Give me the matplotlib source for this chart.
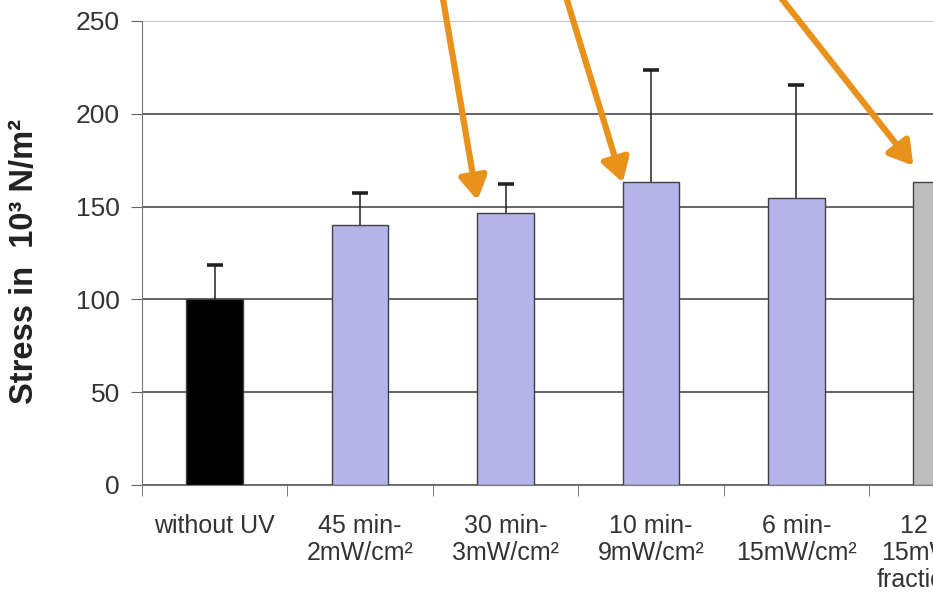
import matplotlib.pyplot as plt
import matplotlib.patheffects as pe
import numpy as np

plt.rcParams['font.family'] = ['Liberation Sans', 'DejaVu Sans']

categories = ['without UV', '45 min-\n2mW/cm²', '30 min-\n3mW/cm²', '10 min-\n9mW/cm²',
              '6 min-\n15mW/cm²', '12 min-\n15mW/cm²\nfractionated']
stress = [100, 140, 146.5, 163, 154.5, 163]
stress_err = [18.5, 17.5, 15.5, 60.5, 61, 57]
y_ticks = [0, 50, 100, 150, 200, 250]

# arrows point at these bars
arrow_bars = [2, 3, 5]

bar_colors = ['#000000', '#b4b4e8', '#b4b4e8', '#b4b4e8', '#b4b4e8', '#bebebe']
bar_width = 0.39

fig = plt.figure(figsize=(9.33, 5.99), dpi=100)
# axes run past the right edge, as in the cropped original
ax = fig.add_axes([142 / 933, 1 - 485 / 599, 6 * 145.4 / 933, 464 / 599])

x = np.arange(len(categories))
ax.bar(x, stress, width=bar_width, color=bar_colors, edgecolor='#404040', linewidth=1, zorder=3)
_, caps, _ = ax.errorbar(x, stress, yerr=[np.zeros(len(stress)), stress_err], fmt='none',
                         ecolor='#222222', elinewidth=1.1, capsize=6, capthick=2.6, zorder=4)
caps[0].set_visible(False)  # only the upper caps

ax.set_xlim(-0.5, len(categories) - 0.5)
ax.set_ylim(0, 250)
ax.set_yticks(y_ticks)
ax.set_xticks(x)
ax.set_xticklabels(categories, fontsize=18, color='#333333', linespacing=1.15)
ax.set_xticks(np.arange(len(categories) + 1) - 0.5, minor=True)
ax.tick_params(axis='x', which='major', length=0, pad=21)
ax.tick_params(axis='x', which='minor', length=8, direction='out', color='#666666')
ax.tick_params(axis='y', length=8, direction='out', color='#666666', labelsize=19,
               labelcolor='#333333', pad=8)

ax.grid(True, axis='y', color='#4a4a4a', linewidth=1.2, zorder=0)
ax.get_ygridlines()[-1].set_color('#b8b8b8')
for side in ['top', 'right']:
    ax.spines[side].set_visible(False)
ax.spines['left'].set_color('#777777')
ax.spines['bottom'].set_color('#777777')

ax.set_ylabel('Stress in  10³ N/m²', fontsize=23.5, fontweight='bold', color='#222222')
ax.yaxis.set_label_coords(40 / 933, 1 - 261 / 599, transform=fig.transFigure)

arrow_start_x = [1.57, 2.42, 3.90]
arrow_lift = [7, 0, 9]
for i, sx, lift in zip(arrow_bars, arrow_start_x, arrow_lift):
    ax.annotate('', xy=(i - bar_width / 2, stress[i] + lift), xytext=(sx, 262),
                annotation_clip=False, zorder=6,
                arrowprops=dict(arrowstyle='-|>,head_length=0.5,head_width=0.3',
                                color='#e8921c', lw=4.5, mutation_scale=28,
                                shrinkA=0, shrinkB=0,
                                path_effects=[pe.SimplePatchShadow(offset=(2, -2), alpha=0.35),
                                              pe.Normal()]))

plt.savefig('out.png', dpi=100)
